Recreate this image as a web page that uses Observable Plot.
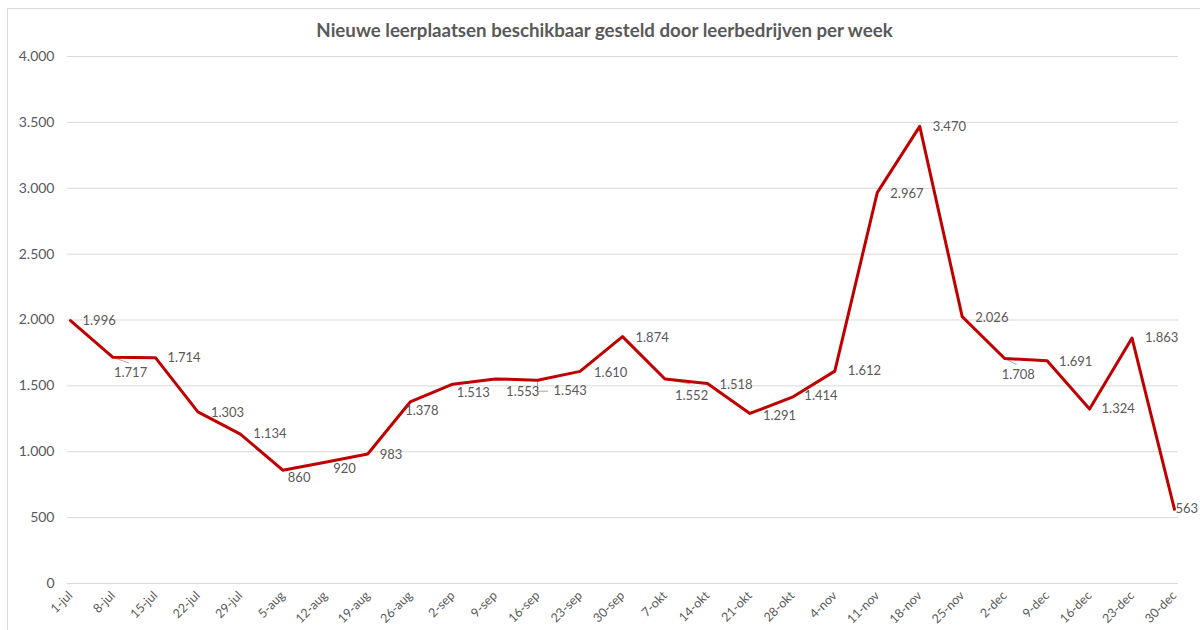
<!DOCTYPE html>
<html><head><meta charset="utf-8">
<script src="https://cdn.jsdelivr.net/npm/d3@7"></script>
<script src="https://cdn.jsdelivr.net/npm/@observablehq/plot@0.6"></script>
<style>
body{margin:0;background:#fff;width:1200px;height:630px;overflow:hidden;position:relative;font-family:Lato,"Open Sans",sans-serif}
#frame{position:absolute;left:7px;top:8px;width:1300px;height:700px;border:1px solid #d9d9d9;pointer-events:none}
#title{height:46px;box-sizing:border-box;padding-top:20px;padding-left:9px;text-align:center;font-weight:bold;font-size:18.7px;line-height:20px;color:#595959;white-space:nowrap}
#chart svg{display:block}
</style></head><body>
<div id="frame"></div>
<div id="title">Nieuwe leerplaatsen beschikbaar gesteld door leerbedrijven per week</div>
<div id="chart"></div>
<script>
const weeks = ["1-jul","8-jul","15-jul","22-jul","29-jul","5-aug","12-aug","19-aug","26-aug","2-sep","9-sep","16-sep","23-sep","30-sep","7-okt","14-okt","21-okt","28-okt","4-nov","11-nov","18-nov","25-nov","2-dec","9-dec","16-dec","23-dec","30-dec"];
const values = [1996,1717,1714,1303,1134,860,920,983,1378,1513,1553,1543,1610,1874,1552,1518,1291,1414,1612,2967,3470,2026,1708,1691,1324,1863,563];
const yTicks = [0,500,1000,1500,2000,2500,3000,3500,4000];

// label placement (pixels from point), as in the reference
const labelOffsets = [[12,0],[1,16],[12,0],[13,1],[13,0],[5,8],[8,7],[12,1],[-5,9],[4,9],[11,13],[16,11],[14,1],[13,1],[10,17],[12,1],[13,2],[12,-1],[13,0],[13,1],[13,1],[13,1],[-3,16],[12,1],[12,0],[13,0],[1,0]];
const leaders = [
  {i:1, length:17, rotate:110, dx:0, dy:0},
  {i:11, length:11, rotate:180, dx:0, dy:0},
  {i:11, length:9, rotate:90, dx:1, dy:11},
  {i:14, length:25, rotate:101, dx:0, dy:0},
  {i:22, length:13, rotate:117, dx:0, dy:0}
];

const data = weeks.map((w, i) => ({week: w, value: values[i], i}));
const fmt = d3.formatLocale({decimal: ",", thousands: ".", grouping: [3], currency: ["€", ""]}).format(",d");
const seg = {draw(ctx, l) { ctx.moveTo(0, 0); ctx.lineTo(0, -l); }};

const labelMarks = data.map((d, k) => Plot.text([d], {
  x: "week", y: "value", text: v => fmt(v.value),
  dx: labelOffsets[k][0], dy: labelOffsets[k][1],
  textAnchor: "start", lineAnchor: "middle",
  fontSize: 13, fill: "#595959"
}));
const leaderMarks = leaders.map(L => Plot.vector([data[L.i]], {
  x: "week", y: "value", length: L.length, rotate: L.rotate,
  dx: L.dx, dy: L.dy, anchor: "start", shape: seg,
  stroke: "#a6a6a6", strokeWidth: 1
}));

const chart = Plot.plot({
  width: 1200,
  height: 584,
  marginLeft: 70,
  marginRight: 26,
  marginTop: 10,
  marginBottom: 47,
  style: {fontFamily: "Lato, 'Open Sans', sans-serif", color: "#595959", background: "transparent"},
  x: {type: "point", domain: weeks, padding: 0, round: false},
  y: {domain: [0, 4000]},
  marks: [
    Plot.ruleY(yTicks, {stroke: "#d9d9d9", strokeWidth: 1, insetLeft: -3, insetRight: -4}),
    Plot.axisY({ticks: yTicks, tickFormat: fmt, tickSize: 0, tickPadding: 16, fontSize: 14, label: null}),
    Plot.axisX({tickRotate: -45, tickSize: 0, tickPadding: 10, fontSize: 12.5, label: null}),
    ...leaderMarks,
    Plot.line(data, {x: "week", y: "value", stroke: "#c00000", strokeWidth: 3, strokeLinejoin: "round"}),
    ...labelMarks
  ]
});
document.getElementById("chart").appendChild(chart);
</script>
</body></html>
